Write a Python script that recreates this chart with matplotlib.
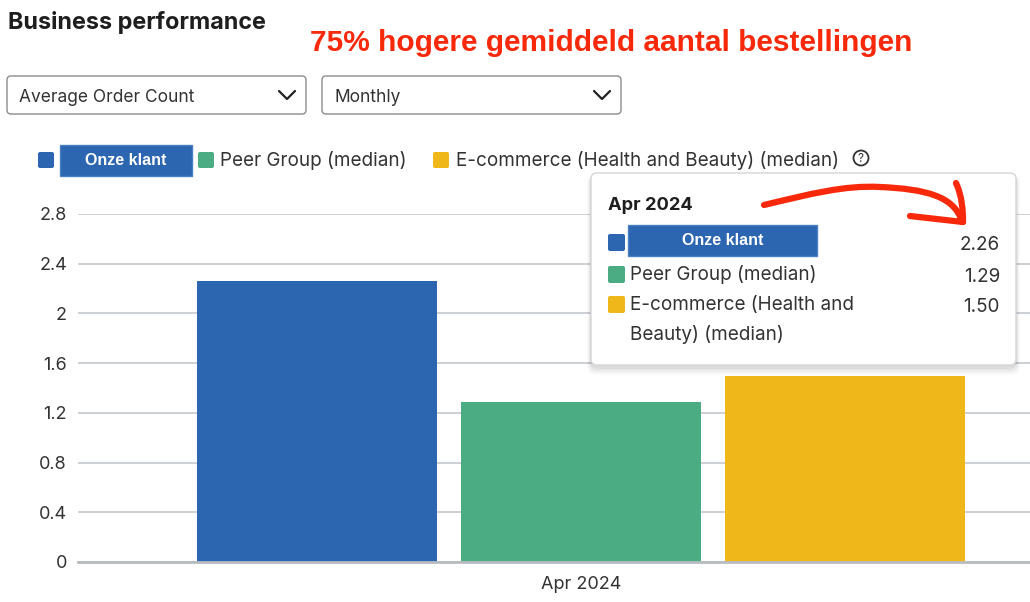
#!/usr/bin/env python3
# Business performance - average order count, Apr 2024
import matplotlib
matplotlib.use("Agg")
import matplotlib.pyplot as plt
from matplotlib.patches import FancyBboxPatch, Rectangle, Circle, PathPatch
from matplotlib.path import Path

# data
categories = ['Apr 2024']
series = ['Onze klant', 'Peer Group (median)', 'E-commerce (Health and Beauty) (median)']
values = [[2.26], [1.29], [1.50]]
colors = ['#2d66b0', '#4bab83', '#f0b71a']
yticks = [0, 0.4, 0.8, 1.2, 1.6, 2, 2.4, 2.8]
metric = 'Average Order Count'
period = 'Monthly'

UI = 'Inter'
RED = '#f8290a'
TXT = '#333333'

W, H = 1030, 602
fig = plt.figure(figsize=(W / 100, H / 100), dpi=100)

# main chart axes (pixel layout: x 78..1030, y 214..562)
ax = fig.add_axes([78 / W, (H - 562) / H, (W - 78) / W, 348 / H])
offsets = [-1, 0, 1]
for i, name in enumerate(series):
    xs = [c + offsets[i] for c in range(len(categories))]
    ax.bar(xs, values[i], width=240 / 264, color=colors[i], zorder=3)

ax.set_ylim(0, 2.8)
ax.set_xlim((78 - 581) / 264, (1030 - 581) / 264)
ax.set_yticks(yticks)
ax.set_yticklabels([f'{t:g}' for t in yticks], fontsize=13, color=TXT, fontfamily=UI)
ax.set_xticks(range(len(categories)))
ax.set_xticklabels(categories, fontsize=13, color=TXT, fontfamily=UI)
ax.tick_params(length=0, pad=8)
ax.tick_params(axis='x', pad=10)
ax.grid(axis='y', color='#c3c8ce', linewidth=1.2, zorder=0)
for s in ['top', 'right', 'left']:
    ax.spines[s].set_visible(False)
ax.spines['bottom'].set_color('#b8bcc1')
ax.spines['bottom'].set_linewidth(2)
ax.spines['bottom'].set_zorder(4)

# overlay in pixel coords for the page elements
ov = fig.add_axes([0, 0, 1, 1], zorder=5)
ov.set_xlim(0, W)
ov.set_ylim(H, 0)
ov.axis('off')
ov.patch.set_alpha(0)

ov.text(8, 23, 'Business performance', fontsize=16.8, fontweight='bold',
        color='#1e1e1e', fontfamily=UI, va='center')
ov.text(611, 43, '75% hogere gemiddeld aantal bestellingen', fontsize=21.5,
        fontweight='bold', color=RED, fontfamily='Liberation Sans', ha='center', va='center')

# dropdowns
for x0, x1, label in [(7, 306, metric), (322, 621, period)]:
    ov.add_patch(FancyBboxPatch((x0, 76), x1 - x0, 38, boxstyle='round,pad=0,rounding_size=4',
                                fc='white', ec='#8c8c8c', lw=1))
    ov.text(x0 + 12, 97, label, fontsize=12.5, color=TXT, fontfamily=UI, va='center')
    cx = x1 - 19
    ov.plot([cx - 8, cx, cx + 8], [91, 99, 91], color='#222222', lw=1.6,
            solid_capstyle='round', solid_joinstyle='round')


def onze_label(x0, y0, w, h, fs):
    ov.add_patch(Rectangle((x0, y0), w, h, fc='#2d66b0', ec='#4a80c4', lw=1))
    ov.text(x0 + w / 2, y0 + h / 2, series[0], fontsize=fs, fontweight='bold',
            color='white', fontfamily='Liberation Sans', ha='center', va='center')


# legend
ov.add_patch(FancyBboxPatch((38, 152), 16, 16, boxstyle='round,pad=0,rounding_size=2',
                            fc=colors[0], ec='none'))
onze_label(60, 145, 132, 31, 11.5)
ov.add_patch(FancyBboxPatch((198, 152), 16, 16, boxstyle='round,pad=0,rounding_size=2',
                            fc=colors[1], ec='none'))
ov.text(220, 161, series[1], fontsize=13.6, color=TXT, fontfamily=UI, va='center')
ov.add_patch(FancyBboxPatch((433, 152), 16, 16, boxstyle='round,pad=0,rounding_size=2',
                            fc=colors[2], ec='none'))
ov.text(456, 161, series[2], fontsize=13.6, color=TXT, fontfamily=UI, va='center')
ov.add_patch(Circle((861, 158), 7.5, fc='none', ec='#333333', lw=1.3))
ov.text(861, 158.5, '?', fontsize=8.5, color='#333333', fontfamily=UI, ha='center', va='center')

# tooltip with soft shadow
for k, a in [(8, 0.02), (6, 0.03), (4, 0.04), (2, 0.05)]:
    ov.add_patch(FancyBboxPatch((591 - k / 2, 173 + 2), 425 + k, 192 + k,
                                boxstyle='round,pad=0,rounding_size=8',
                                fc='black', ec='none', alpha=a))
ov.add_patch(FancyBboxPatch((591, 173), 425, 192, boxstyle='round,pad=0,rounding_size=6',
                            fc='white', ec='#d6d6d6', lw=1))
ov.text(608, 205, categories[0], fontsize=13.2, fontweight='bold', color='#1e1e1e',
        fontfamily=UI, va='center')
rows_y = [242, 274, 304]
for i, yy in enumerate(rows_y):
    ov.add_patch(FancyBboxPatch((608, yy - 8), 17, 17, boxstyle='round,pad=0,rounding_size=2',
                                fc=colors[i], ec='none'))
    ov.text(1000, yy + 3, f'{values[i][0]:.2f}', fontsize=13.6, color=TXT, fontfamily=UI,
            ha='right', va='center')
onze_label(628, 225, 189, 31, 11.5)
ov.text(630, 275, series[1], fontsize=13.6, color=TXT, fontfamily=UI, va='center')
ov.text(630, 305, 'E-commerce (Health and', fontsize=13.6, color=TXT, fontfamily=UI, va='center')
ov.text(630, 335, 'Beauty) (median)', fontsize=13.6, color=TXT, fontfamily=UI, va='center')

# hand-drawn red arrow
curve = Path([(764, 205), (810, 194), (845, 185), (880, 187),
              (925, 189), (955, 196), (962, 222)],
             [Path.MOVETO, Path.CURVE4, Path.CURVE4, Path.CURVE4,
              Path.CURVE4, Path.CURVE4, Path.CURVE4])
ov.add_patch(PathPatch(curve, fc='none', ec=RED, lw=4.5, capstyle='round', joinstyle='round'))
head1 = Path([(956, 183), (962, 196), (963, 210), (963, 222)],
             [Path.MOVETO, Path.CURVE4, Path.CURVE4, Path.CURVE4])
ov.add_patch(PathPatch(head1, fc='none', ec=RED, lw=4.5, capstyle='round'))
ov.plot([910, 963], [216, 222], color=RED, lw=4.5, solid_capstyle='round')

fig.savefig('out.png', dpi=100)
